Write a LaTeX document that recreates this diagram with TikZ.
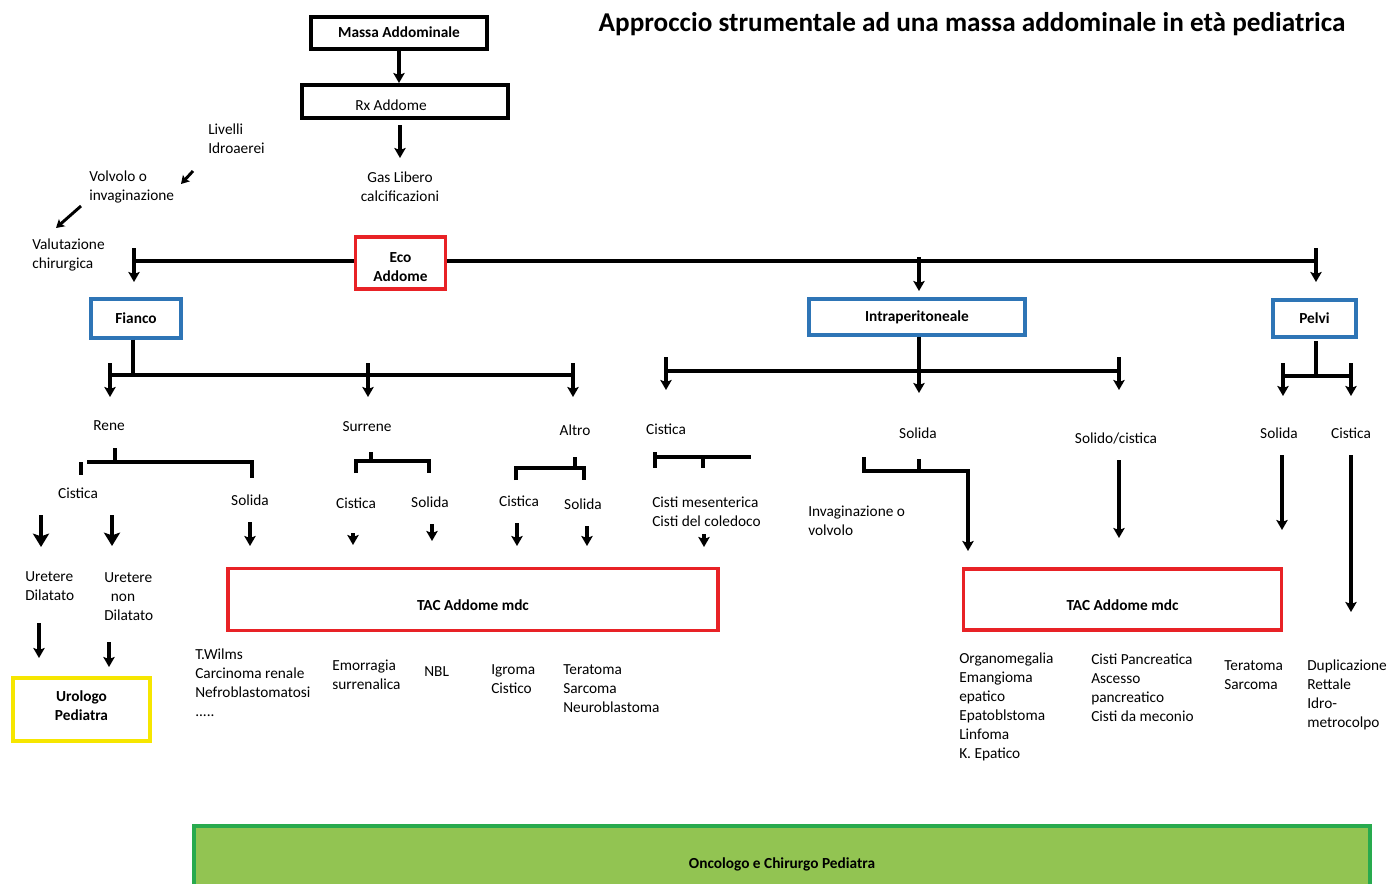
\documentclass[tikz,border=0pt]{standalone}
\usepackage{fontspec}
\setmainfont{Carlito}
\usetikzlibrary{arrows.meta}
\newdimen\pxu \pxu=0.75pt
\definecolor{boxred}{RGB}{232,34,38}
\definecolor{boxblue}{RGB}{46,117,182}
\definecolor{boxyel}{RGB}{246,230,0}
\definecolor{grnfill}{RGB}{146,196,82}
\definecolor{grnline}{RGB}{40,170,78}
\begin{document}
\begin{tikzpicture}[x=0.75pt,y=-0.75pt,
  txt/.style={font=\fontsize{11.5}{14.25}\selectfont, inner sep=0pt, align=left},
  mtxt/.style={txt, anchor=north west},
  ctxt/.style={txt, align=center},
  box/.style={draw, line width=2.4pt, fill=white, inner sep=0pt, font=\bfseries\fontsize{11.5}{14.25}\selectfont},
  blkbox/.style={box, draw=black, line width=3pt},
  redbox/.style={box, draw=boxred},
  bluebox/.style={box, draw=boxblue},
  yelbox/.style={box, draw=boxyel, line width=3pt},
  brk/.style={line width=3pt},
  arr/.style={line width=2.5pt, -{Stealth[length=7.5pt,width=8.5pt,inset=1.5pt]}},
  arrsm/.style={line width=2.2pt, -{Stealth[length=6pt,width=7pt,inset=1.2pt]}},
  arrbig/.style={line width=3.2pt, -{Stealth[length=10pt,width=12pt,inset=2pt]}},
]
\useasboundingbox (0,0) rectangle (1389,883);

% ---------- title ----------
\node[inner sep=0pt, font=\bfseries\fontsize{20.4}{24}\selectfont] (title) at (972,24)
  {Approccio strumentale ad una massa addominale in età pediatrica};

% ---------- boxes ----------
\node[blkbox, minimum width=176*\pxu, minimum height=32*\pxu] (massa) at (399,32.5) {Massa Addominale};
\node[blkbox, minimum width=206*\pxu, minimum height=33*\pxu, font=\fontsize{11.5}{14.25}\selectfont,
  text height=13pt, text depth=0pt] (rx) at (405,101.5) {Rx Addome\hspace*{21pt}};
\node[redbox, minimum width=90*\pxu, minimum height=52*\pxu, align=center] (eco) at (400.5,263) {\mbox{}\\[-1pt]Eco\\Addome};
\node[bluebox, minimum width=90*\pxu, minimum height=39*\pxu] (fianco) at (136,318.5) {Fianco};
\node[bluebox, minimum width=216*\pxu, minimum height=36*\pxu] (intra) at (917,317) {Intraperitoneale};
\node[bluebox, minimum width=83*\pxu, minimum height=37*\pxu] (pelvi) at (1314.5,318.5) {Pelvi};
\node[redbox, minimum width=490*\pxu, minimum height=62*\pxu, text height=17pt, text depth=0pt] (tacL) at (473,599.5) {TAC Addome mdc};
\node[redbox, minimum width=318*\pxu, minimum height=61*\pxu, text height=17pt, text depth=0pt] (tacR) at (1122.5,599.5) {TAC Addome mdc};
\node[yelbox, minimum width=137*\pxu, minimum height=63*\pxu, align=center] (uro) at (81.5,709.5) {Urologo\\Pediatra\\[-8pt]\mbox{}};
\begin{scope}
\clip (0,0) rectangle (1389,883);
\node[draw=grnline, fill=grnfill, line width=2.6pt, inner sep=0pt, minimum width=1176*\pxu, minimum height=76*\pxu,
  font=\bfseries\fontsize{11.5}{14.25}\selectfont] (onc) at (782,864) {Oncologo e Chirurgo Pediatra};
\end{scope}

% ---------- top texts ----------
\node[ctxt] (gas) at (400,186.5) {Gas Libero\\calcificazioni};
\node[mtxt] (liv) at (208,121) {\strut Livelli\\Idroaerei};
\node[mtxt] (volv) at (89,168) {\strut Volvolo o\\invaginazione};
\node[mtxt] (valut) at (32,236) {\strut Valutazione\\chirurgica};

% ---------- level labels ----------
\node[ctxt] (rene) at (109,426) {Rene};
\node[ctxt] (surr) at (367,427) {Surrene};
\node[ctxt] (altro) at (575,430) {Altro};
\node[ctxt] (icist) at (666,429) {Cistica};
\node[ctxt] (isol) at (918,433) {Solida};
\node[ctxt] (isolcis) at (1116,438) {Solido/cistica};
\node[ctxt] (psol) at (1279,433) {Solida};
\node[ctxt] (pcis) at (1351,433) {Cistica};
\node[ctxt] (rcis) at (78,493) {Cistica};
\node[ctxt] (rsol) at (250,500) {Solida};
\node[ctxt] (scis) at (356,503) {Cistica};
\node[ctxt] (ssol) at (430,502) {Solida};
\node[ctxt] (acis) at (519,501) {Cistica};
\node[ctxt] (asol) at (583,504) {Solida};
\node[mtxt] (cistim) at (652,494) {\strut Cisti mesenterica\\Cisti del coledoco};
\node[mtxt] (invag) at (808,503) {\strut Invaginazione o\\volvolo};
\node[mtxt] (urd) at (25,568) {\strut Uretere\\Dilatato};
\node[mtxt] (urnd) at (104,569) {\strut Uretere\\\hspace*{5pt}non\\Dilatato};

% ---------- bottom texts ----------
\node[mtxt] (tw) at (195,646) {\strut T.Wilms\\Carcinoma renale\\Nefroblastomatosi\\.....};
\node[mtxt] (emo) at (332,657) {\strut Emorragia\\surrenalica};
\node[mtxt] (nbl) at (424,663) {\strut NBL};
\node[mtxt] (igr) at (491,661) {\strut Igroma\\Cistico};
\node[mtxt] (ter1) at (563,661) {\strut Teratoma\\Sarcoma\\Neuroblastoma};
\node[mtxt] (org) at (959,650) {\strut Organomegalia\\Emangioma\\epatico\\Epatoblstoma\\Linfoma\\K. Epatico};
\node[mtxt] (cpan) at (1091,651) {\strut Cisti Pancreatica\\Ascesso\\pancreatico\\Cisti da meconio};
\node[mtxt] (ter2) at (1224,657) {\strut Teratoma\\Sarcoma};
\node[mtxt] (dup) at (1307,657) {\strut Duplicazione\\Rettale\\Idro-\\metrocolpo};

% ---------- top connectors ----------
\draw[arr] (massa.south) -- (massa.south |- rx.north);
\coordinate (rxd1) at (400,125); \coordinate (rxd2) at (400,158);
\draw[arr] (rxd1) -- (rxd2);
\coordinate (d1a) at (193,171); \coordinate (d1b) at (181,184);
\draw[arrsm] (d1a) -- (d1b);
\coordinate (d2a) at (81,206); \coordinate (d2b) at (56,228);
\draw[arrsm] (d2a) -- (d2b);

% ---------- Eco bracket ----------
\coordinate (eL) at (134,261); \coordinate (eR) at (1316,261);
\draw[brk] (eL) -- (eL -| eco.west);
\draw[brk] (eR -| eco.east) -- (eR);
\coordinate (eLt) at (134,248); \coordinate (eLb) at (134,282);
\draw[arr] (eLt) -- (eLb);
\coordinate (eMt) at (919,257); \coordinate (eMb) at (919,291);
\draw[arr] (eMt) -- (eMb);
\coordinate (eRt) at (1316,248); \coordinate (eRb) at (1316,282);
\draw[arr] (eRt) -- (eRb);

% ---------- Fianco bracket ----------
\coordinate (fv) at (133,375);
\draw[brk] (fv |- fianco.south) -- (fv);
\coordinate (fL) at (110,375); \coordinate (fR) at (573,375);
\draw[brk] (fL) -- (fR);
\coordinate (f1t) at (110,363); \coordinate (f1b) at (110,397);
\coordinate (f2t) at (368,363); \coordinate (f2b) at (368,397);
\coordinate (f3t) at (573,363); \coordinate (f3b) at (573,397);
\draw[arr] (f1t) -- (f1b);
\draw[arr] (f2t) -- (f2b);
\draw[arr] (f3t) -- (f3b);

% ---------- Intraperitoneale bracket ----------
\coordinate (iv) at (919,393);
\draw[arr] (iv |- intra.south) -- (iv);
\coordinate (iL) at (666,371); \coordinate (iR) at (1119,371);
\draw[brk] (iL) -- (iR);
\coordinate (i1t) at (666,357); \coordinate (i1b) at (666,390);
\coordinate (i3t) at (1119,357); \coordinate (i3b) at (1119,390);
\draw[arr] (i1t) -- (i1b);
\draw[arr] (i3t) -- (i3b);

% ---------- Pelvi bracket ----------
\coordinate (pv) at (1316,376); \coordinate (pvt) at (1316,341);
\draw[brk] (pvt) -- (pv);
\coordinate (pL) at (1283,376); \coordinate (pR) at (1351,376);
\draw[brk] (pL) -- (pR);
\coordinate (p1t) at (1283,363); \coordinate (p1b) at (1283,396);
\coordinate (p2t) at (1351,363); \coordinate (p2b) at (1351,396);
\draw[arr] (p1t) -- (p1b);
\draw[arr] (p2t) -- (p2b);

% ---------- Rene sub-bracket ----------
\coordinate (rb0) at (115,448); \coordinate (rb0b) at (115,462);
\draw[brk] (rb0) -- (rb0b);
\coordinate (rb1) at (87,462); \coordinate (rb2) at (252,462); \coordinate (rb3) at (252,478);
\draw[brk] (rb1) -- (rb2) -- (rb3);
\coordinate (rbt1) at (81,462); \coordinate (rbt2) at (81,475);
\draw[brk] (rbt1) -- (rbt2);
\coordinate (ra1t) at (41,515); \coordinate (ra1b) at (41,547);
\coordinate (ra2t) at (112,515); \coordinate (ra2b) at (112,546);
\draw[arrbig] (ra1t) -- (ra1b);
\draw[arrbig] (ra2t) -- (ra2b);
\coordinate (rs1) at (250,522); \coordinate (rs2) at (250,546);
\draw[arr] (rs1) -- (rs2);
\coordinate (u1t) at (39,623); \coordinate (u1b) at (39,658);
\coordinate (u2t) at (109,642); \coordinate (u2b) at (109,667);
\draw[arr] (u1t) -- (u1b);
\draw[arr] (u2t) -- (u2b);

% ---------- Surrene sub-bracket ----------
\coordinate (sb0) at (371,452); \coordinate (sb0b) at (371,461);
\draw[brk] (sb0) -- (sb0b);
\coordinate (sb1) at (356,473); \coordinate (sb2) at (356,461);
\coordinate (sb3) at (429,461); \coordinate (sb4) at (429,473);
\draw[brk] (sb1) -- (sb2) -- (sb3) -- (sb4);
\coordinate (sa1t) at (353,533); \coordinate (sa1b) at (353,545);
\coordinate (sa2t) at (432,524); \coordinate (sa2b) at (432,541);
\draw[arr] (sa1t) -- (sa1b);
\draw[arr] (sa2t) -- (sa2b);

% ---------- Altro sub-bracket ----------
\coordinate (ab0) at (575,457); \coordinate (ab0b) at (575,468);
\draw[brk] (ab0) -- (ab0b);
\coordinate (ab1) at (516,480); \coordinate (ab2) at (516,468);
\coordinate (ab3) at (584,468); \coordinate (ab4) at (584,480);
\draw[brk] (ab1) -- (ab2) -- (ab3) -- (ab4);
\coordinate (aa1t) at (517,523); \coordinate (aa1b) at (517,546);
\coordinate (aa2t) at (587,526); \coordinate (aa2b) at (587,546);
\draw[arr] (aa1t) -- (aa1b);
\draw[arr] (aa2t) -- (aa2b);

% ---------- Intra Cistica sub-bracket ----------
\coordinate (cb1) at (655,457); \coordinate (cb2) at (751,457);
\draw[brk] (cb1) -- (cb2);
\coordinate (cbl1) at (655,452); \coordinate (cbl2) at (655,468);
\draw[brk] (cbl1) -- (cbl2);
\coordinate (cbm1) at (703,457); \coordinate (cbm2) at (703,468);
\draw[brk] (cbm1) -- (cbm2);
\coordinate (ca1) at (704,534); \coordinate (ca2) at (704,547);
\draw[arr] (ca1) -- (ca2);

% ---------- Intra Solida sub-bracket ----------
\coordinate (ib1) at (864,457); \coordinate (ib2) at (864,471);
\coordinate (ib3) at (968,471); \coordinate (ib4) at (968,551);
\draw[arr] (ib1) -- (ib2) -- (ib3) -- (ib4);
\coordinate (ibm1) at (919,459); \coordinate (ibm2) at (919,471);
\draw[brk] (ibm1) -- (ibm2);

% ---------- right arrows ----------
\coordinate (sc1) at (1119,460); \coordinate (sc2) at (1119,538);
\draw[arr] (sc1) -- (sc2);
\coordinate (ps1) at (1282,455); \coordinate (ps2) at (1282,530);
\draw[arr] (ps1) -- (ps2);
\coordinate (pc1) at (1351,455); \coordinate (pc2) at (1351,612);
\draw[arr] (pc1) -- (pc2);

\end{tikzpicture}
\end{document}
